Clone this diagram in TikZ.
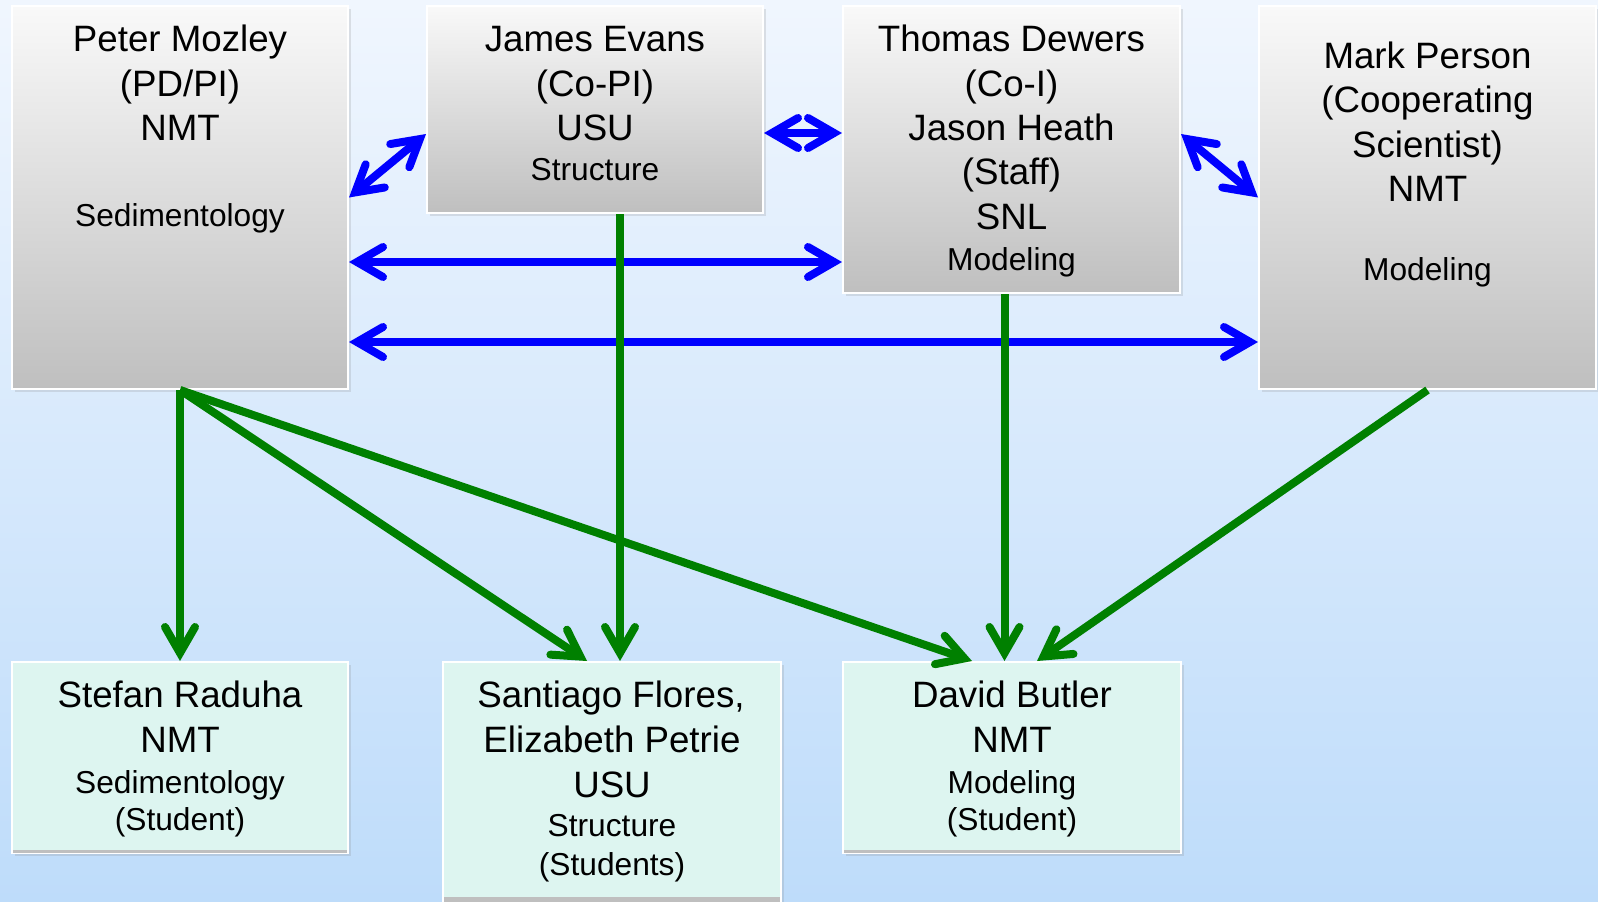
\documentclass[tikz,border=0pt]{standalone}
\usepackage{fontspec}
\setmainfont{Liberation Sans}
\usetikzlibrary{arrows.meta,shadows}

\definecolor{bgtop}{RGB}{240,246,254}
\definecolor{bgbot}{RGB}{190,220,250}
\definecolor{boxtop}{RGB}{249,249,249}
\definecolor{boxbot}{RGB}{191,191,191}
\definecolor{mint}{RGB}{221,245,240}
\definecolor{arrblue}{RGB}{0,0,255}
\definecolor{arrgreen}{RGB}{0,128,0}

\tikzset{
  senior/.style={rectangle, draw=white, line width=2pt, top color=boxtop, bottom color=boxbot,
    drop shadow={shadow xshift=3pt, shadow yshift=-3pt, opacity=0.2}, inner sep=0pt},
  junior/.style={rectangle, draw=white, line width=2pt, fill=mint,
    drop shadow={shadow xshift=3pt, shadow yshift=-3pt, opacity=0.2}, inner sep=0pt},
  big/.style={anchor=base, inner sep=0pt, font=\fontsize{36.7}{44}\selectfont},
  minor/.style={anchor=base, inner sep=0pt, font=\fontsize{31.7}{38}\selectfont},
  barb/.tip={Straight Barb[length=26pt, width=30pt, line cap=round, line join=miter]},
  link/.style={draw=arrblue, line width=8pt, barb-barb},
  feed/.style={draw=arrgreen, line width=8pt, -barb},
  barline/.style={draw=boxbot, line width=3pt},
}

\begin{document}
\begin{tikzpicture}[x=1pt, y=-1pt]
  \useasboundingbox (0,0) rectangle (1598,902);
  \shade[top color=bgtop, bottom color=bgbot] (0,0) rectangle (1598,902);

  % senior boxes
  \node[senior, minimum width=336pt, minimum height=383pt] (peter)  at (180,197.5) {};
  \node[senior, minimum width=336pt, minimum height=207pt] (james)  at (595,109.5) {};
  \node[senior, minimum width=337pt, minimum height=287pt] (thomas) at (1011.5,149.5) {};
  \node[senior, minimum width=337pt, minimum height=383pt] (mark)   at (1427.5,197.5) {};

  % junior boxes
  \node[junior, minimum width=336pt, minimum height=191pt] (stefan)   at (180,757.5) {};
  \node[junior, minimum width=338pt, minimum height=240pt] (santiago) at (612,782) {};
  \node[junior, minimum width=338pt, minimum height=191pt] (david)    at (1012,757.5) {};

  \draw[barline] ([xshift=2pt,yshift=2.5pt]stefan.south west) -- ([xshift=-2pt,yshift=2.5pt]stefan.south east);
  \draw[barline] ([xshift=2pt,yshift=2.5pt]david.south west) -- ([xshift=-2pt,yshift=2.5pt]david.south east);
  \draw[barline, line width=5pt] ([xshift=2pt,yshift=4pt]santiago.south west) -- ([xshift=-2pt,yshift=4pt]santiago.south east);

  % texts
  \node[big]   (pm1) at (180,51.7)  {Peter Mozley};
  \node[big]   (pm2) at (180,96.2)  {(PD/PI)};
  \node[big]   (pm3) at (180,140.5) {NMT};
  \node[minor] (pm4) at (180,226.7) {Sedimentology};

  \node[big]   (je1) at (595,51.7)  {James Evans};
  \node[big]   (je2) at (595,96.2)  {(Co-PI)};
  \node[big]   (je3) at (595,140.5) {USU};
  \node[minor] (je4) at (595,180)   {Structure};

  \node[big]   (td1) at (1011.5,51.7)  {Thomas Dewers};
  \node[big]   (td2) at (1011.5,96)    {(Co-I)};
  \node[big]   (td3) at (1011.5,140.3) {Jason Heath};
  \node[big]   (td4) at (1011.5,184.6) {(Staff)};
  \node[big]   (td5) at (1011.5,229)   {SNL};
  \node[minor] (td6) at (1011.5,270)   {Modeling};

  \node[big]   (mp1) at (1427.5,68.3)  {Mark Person};
  \node[big]   (mp2) at (1427.5,112.8) {(Cooperating};
  \node[big]   (mp3) at (1427.5,157)   {Scientist)};
  \node[big]   (mp4) at (1427.5,201.5) {NMT};
  \node[minor] (mp5) at (1427.5,280)   {Modeling};

  \node[big]   (sr1) at (180,707.5) {Stefan Raduha};
  \node[big]   (sr2) at (180,752.7) {NMT};
  \node[minor] (sr3) at (180,793.2) {Sedimentology};
  \node[minor] (sr4) at (180,830.7) {(Student)};

  \node[big]   (sf1) at (611,707)   {Santiago Flores,};
  \node[big]   (sf2) at (612,752.7) {Elizabeth Petrie};
  \node[big]   (sf3) at (612,797)   {USU};
  \node[minor] (sf4) at (612,836.7) {Structure};
  \node[minor] (sf5) at (612,875)   {(Students)};

  \node[big]   (db1) at (1012,707.5) {David Butler};
  \node[big]   (db2) at (1012,752.7) {NMT};
  \node[minor] (db3) at (1012,793.2) {Modeling};
  \node[minor] (db4) at (1012,830.7) {(Student)};

  % blue two-way links
  \draw[link] (peter.east) -- ([yshift=-24.5pt]james.west);
  \draw[link] ([yshift=-23.5pt]james.east) -- ([yshift=16.5pt]thomas.west);
  \draw[link] ([yshift=15.5pt]thomas.east) -- (mark.west);
  \draw[link] ([yshift=-64.5pt]peter.east) -- ([yshift=-112.5pt]thomas.west);
  \draw[link] ([yshift=-144.5pt]peter.east) -- ([yshift=-144.5pt]mark.west);

  % green supervision arrows
  \draw[feed] (peter.south) -- (stefan.north);
  \draw[feed] (peter.south) -- ([xshift=-25pt]santiago.north);
  \draw[feed] ([xshift=25pt]james.south) -- ([xshift=8pt]santiago.north);
  \draw[feed] (peter.south) -- ([xshift=-40pt]david.north);
  \draw[feed] ([xshift=-7pt]thomas.south) -- ([xshift=-7.5pt]david.north);
  \draw[feed] (mark.south) -- ([xshift=25pt]david.north);
\end{tikzpicture}
\end{document}
